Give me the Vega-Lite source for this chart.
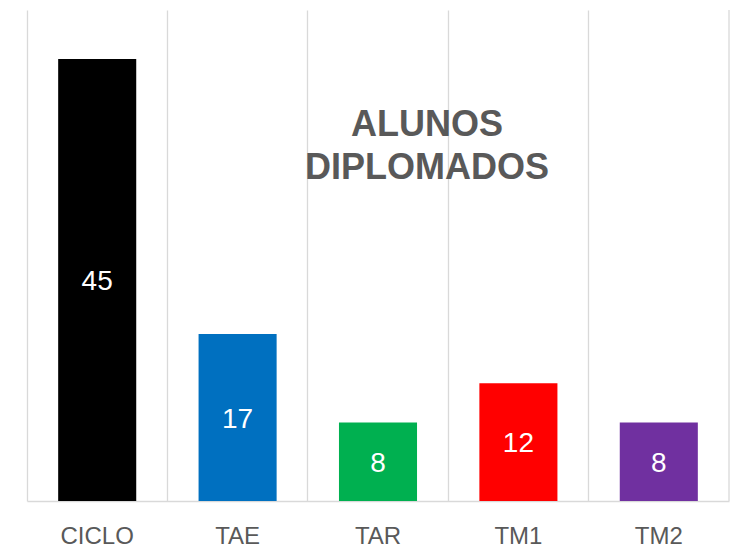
{
  "$schema": "https://vega.github.io/schema/vega-lite/v6.json",
  "width": 702,
  "height": 491,
  "autosize": {"type": "none"},
  "padding": {"left": 27, "top": 10, "right": 2, "bottom": 55},
  "background": "#ffffff",
  "config": {"view": {"stroke": null}, "font": "Liberation Sans"},
  "title": {
    "text": ["ALUNOS", "DIPLOMADOS"],
    "anchor": "middle",
    "frame": "group",
    "orient": "top",
    "offset": 0,
    "baseline": "alphabetic",
    "dx": 49,
    "dy": 206,
    "fontSize": 36,
    "fontWeight": "bold",
    "color": "#595959",
    "font": "Liberation Sans",
    "lineHeight": 43
  },
  "data": {
    "values": [
      {"category": "CICLO", "value": 45},
      {"category": "TAE", "value": 17},
      {"category": "TAR", "value": 8},
      {"category": "TM1", "value": 12},
      {"category": "TM2", "value": 8}
    ]
  },
  "encoding": {
    "x": {
      "field": "category",
      "type": "nominal",
      "sort": ["CICLO", "TAE", "TAR", "TM1", "TM2"],
      "scale": {"paddingInner": 0, "paddingOuter": 0},
      "axis": {
        "title": null,
        "labelAngle": 0,
        "labelFontSize": 24,
        "labelColor": "#595959",
        "labelFont": "Liberation Sans",
        "labelPadding": 23,
        "ticks": false,
        "domainColor": "#d9d9d9",
        "domainWidth": 1.5,
        "grid": true,
        "gridColor": "#d9d9d9",
        "gridWidth": 1.3,
        "bandPosition": 0
      }
    }
  },
  "layer": [
    {
      "mark": {"type": "bar", "width": {"band": 0.556}},
      "encoding": {
        "y": {"field": "value", "type": "quantitative", "scale": {"domain": [0, 50]}, "axis": null},
        "color": {
          "field": "category",
          "type": "nominal",
          "scale": {
            "domain": ["CICLO", "TAE", "TAR", "TM1", "TM2"],
            "range": ["#000000", "#0070C0", "#00B050", "#FF0000", "#7030A0"]
          },
          "legend": null
        }
      }
    },
    {
      "transform": [{"filter": "datum.category === 'TM2'"}],
      "mark": {"type": "rule", "color": "#d9d9d9", "strokeWidth": 1.3},
      "encoding": {
        "x": {"field": "category", "type": "nominal", "bandPosition": 1, "sort": ["CICLO", "TAE", "TAR", "TM1", "TM2"]}
      }
    },
    {
      "mark": {"type": "text", "color": "#ffffff", "fontSize": 28, "baseline": "middle", "dy": 2, "font": "Liberation Sans"},
      "encoding": {
        "y": {"field": "value", "type": "quantitative", "scale": {"domain": [0, 100]}, "axis": null},
        "text": {"field": "value", "type": "quantitative"}
      }
    }
  ],
  "resolve": {"scale": {"y": "independent", "color": "independent"}}
}
